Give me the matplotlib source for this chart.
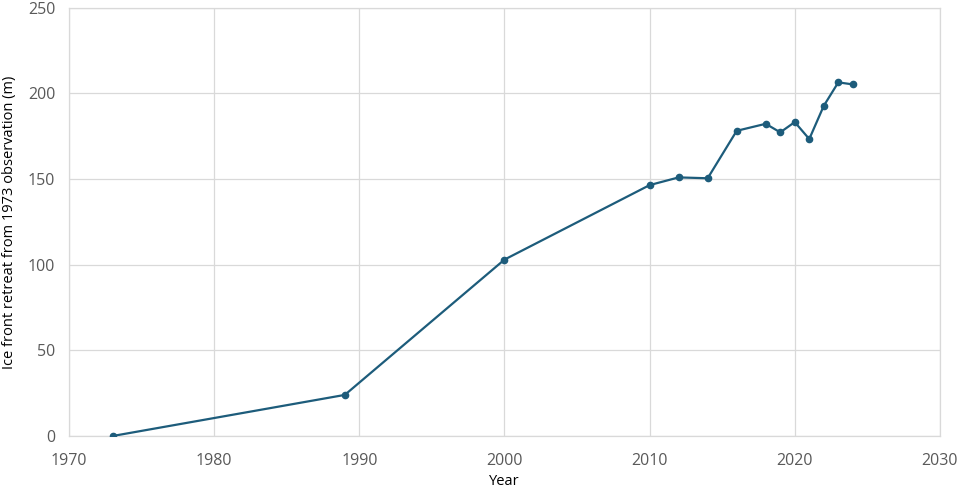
import numpy as np
import matplotlib.pyplot as plt

plt.rcParams['font.family'] = ['Open Sans', 'DejaVu Sans']

years = [1973, 1989, 2000, 2010, 2012, 2014, 2016, 2018, 2019, 2020, 2021, 2022, 2023, 2024]
retreat = [0, 24, 103, 146.5, 151, 150.5, 178.2, 182.3, 177.3, 183.3, 173.4, 192.8, 206.5, 205.3]

fig = plt.figure(figsize=(9.64, 4.91), dpi=100)
ax = fig.add_axes([0.0716, 0.112, 0.9034, 0.872])

ax.plot(years, retreat, color='#1d5c7b', linewidth=1.6, marker='o', markersize=4.5, zorder=3)

ax.set_xlim(1970, 2030)
ax.set_ylim(0, 250)
ax.set_xticks(np.arange(1970, 2031, 10))
ax.set_yticks(np.arange(0, 251, 50))
ax.grid(True, color='#d9d9d9', linewidth=0.9)
for s in ax.spines.values():
    s.set_color('#d9d9d9')
    s.set_linewidth(0.9)
ax.tick_params(length=0, labelsize=11.5, labelcolor='#595959')
ax.tick_params(axis='x', pad=12)
ax.tick_params(axis='y', pad=10)

ax.set_xlabel('Year', fontsize=10.5, labelpad=4)
ax.set_ylabel('Ice front retreat from 1973 observation (m)', fontsize=10.5, labelpad=8)

plt.savefig('out.png', format='png')
